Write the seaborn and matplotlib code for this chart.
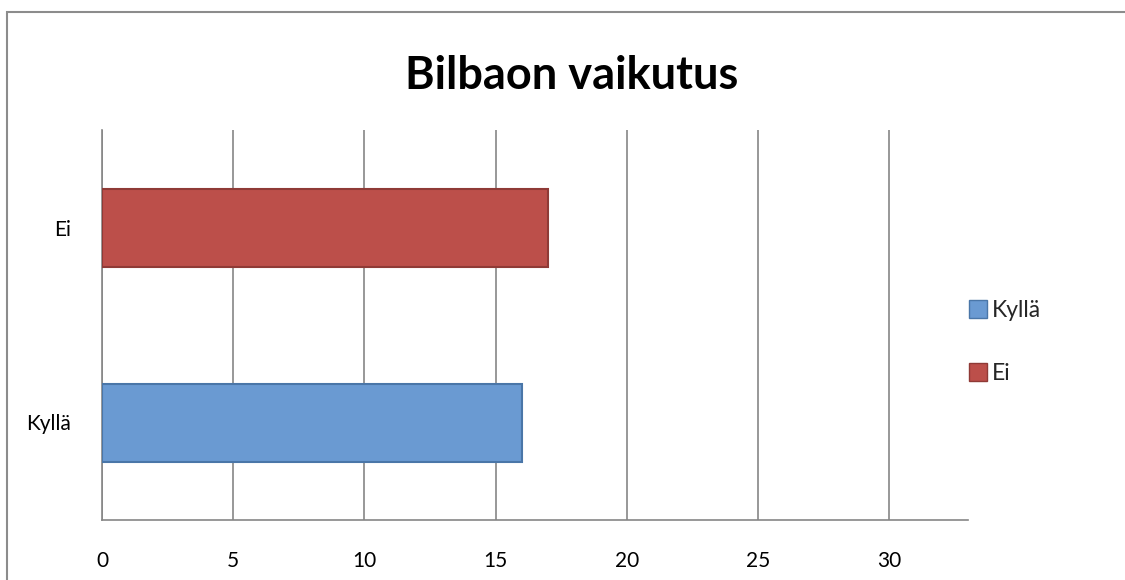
import matplotlib
matplotlib.use("Agg")
import matplotlib.pyplot as plt
import seaborn as sns
import pandas as pd
from matplotlib.patches import Rectangle, Patch

categories = ["Kyllä", "Ei"]
values = [16, 17]
colors = ["#6A9AD2", "#BC4F4A"]
edge_colors = ["#4A76A8", "#8F3A36"]
xticks = [0, 5, 10, 15, 20, 25, 30]
title = "Bilbaon vaikutus"

sns.set_theme(style="white")
plt.rcParams['font.family'] = ['Lato', 'DejaVu Sans']

df = pd.DataFrame({"cat": categories, "val": values})
fig = plt.figure(figsize=(11.25, 5.8), dpi=100)
W, H = 1125, 580
ax = fig.add_axes([102 / W, 1 - 520 / H, (968 - 102) / W, (520 - 130) / H])

order = ["Ei", "Kyllä"]
pal = dict(zip(categories, colors))
sns.barplot(data=df, x="val", y="cat", hue="cat", order=order, hue_order=categories,
            palette=pal, width=0.4, ax=ax, legend=False, saturation=1)
for bar in ax.patches:
    fc = bar.get_facecolor()
    idx = 0 if abs(fc[2] - matplotlib.colors.to_rgb(colors[0])[2]) < 0.05 else 1
    bar.set_edgecolor(edge_colors[idx])
    bar.set_linewidth(1.5)
    bar.set_zorder(3)

ax.set_xlim(0, 33)
ax.set_xticks(xticks)
ax.set_xticklabels([str(t) for t in xticks])
ax.set_xlabel("")
ax.set_ylabel("")
ax.xaxis.grid(True, color="#868686", linewidth=1.2)
ax.yaxis.grid(False)
ax.set_axisbelow(True)
for s in ["top", "right"]:
    ax.spines[s].set_visible(False)
ax.spines["bottom"].set_color("#868686")
ax.spines["left"].set_color("#868686")
ax.spines["bottom"].set_linewidth(1.2)
ax.spines["left"].set_linewidth(1.2)
ax.tick_params(axis="x", length=0, pad=22, labelsize=15, labelcolor="black")
ax.tick_params(axis="y", length=0, pad=22, labelsize=15, labelcolor="black")

fig.text(572 / W, 1 - 76 / H, title, ha="center", va="center",
         fontsize=32.5, fontweight="bold", color="black")

handles = [Patch(facecolor=colors[i], edgecolor=edge_colors[i]) for i in range(2)]
fig.legend(handles, categories, loc="center left", bbox_to_anchor=(948 / W, 1 - 342 / H),
           frameon=False, fontsize=16.5, handlelength=0.8, handleheight=0.8,
           handletextpad=0.2, labelspacing=1.85)

fig.add_artist(Rectangle((7 / W, -0.05), 1.1, 1 - 12 / H + 0.05, transform=fig.transFigure,
                         fill=False, edgecolor="#8C8C8C", linewidth=1.5))

fig.savefig("out.png", dpi=100)
